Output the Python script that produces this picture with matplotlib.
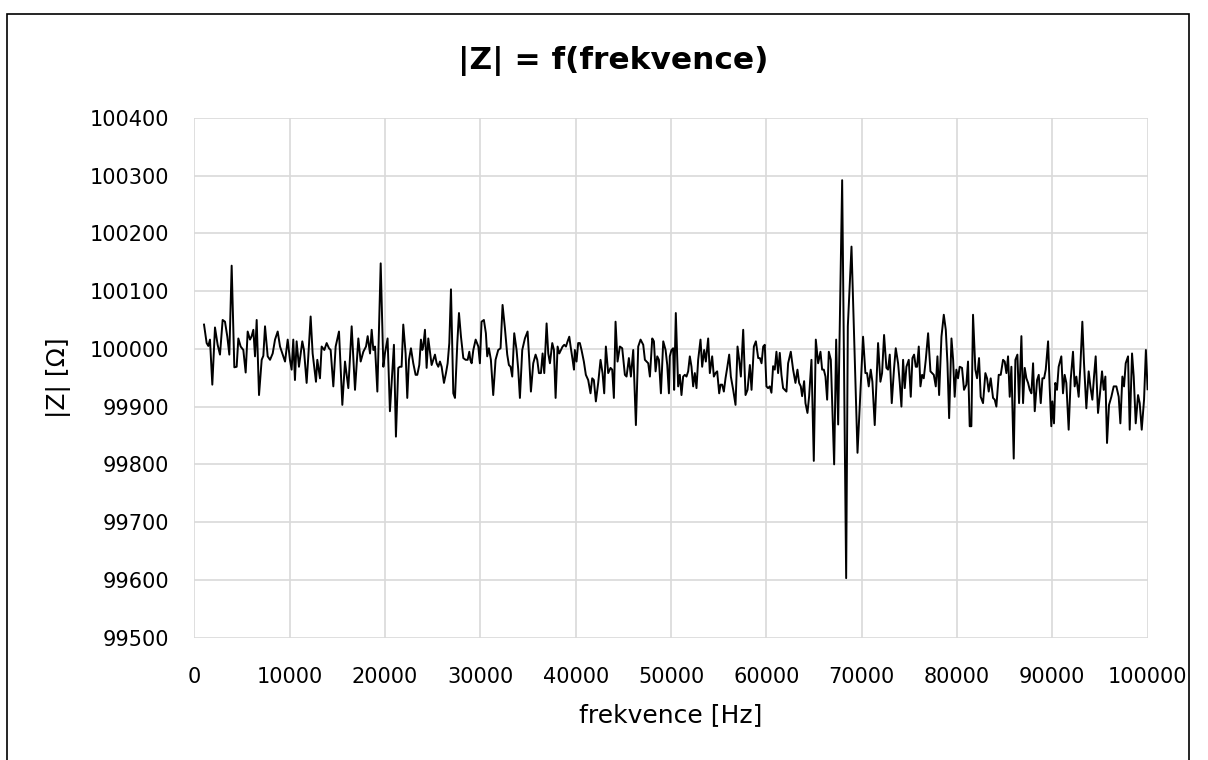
import matplotlib
matplotlib.use("Agg")
import matplotlib.pyplot as plt
from matplotlib.patches import Rectangle

# values (frequency in Hz, |Z| in ohm)
freq = [
    1000, 1275, 1450, 1625, 1870, 2150, 2430, 2675, 2955, 3200, 3445, 3655, 3900, 4180, 4425, 4600,
    4845, 5125, 5370, 5580, 5825, 6000, 6175, 6350, 6525, 6770, 7050, 7225, 7400, 7680, 7925, 8205,
    8450, 8730, 8975, 9220, 9500, 9780,
    10016, 10191, 10366, 10541, 10716, 10961, 11311, 11486, 11766, 11941, 12186, 12396, 12746, 12886,
    13166, 13341, 13621, 13866, 14111, 14286, 14566, 14811, 15161, 15511, 15791, 16141, 16491, 16841,
    17191, 17436, 17716, 17996, 18171, 18416, 18591, 18766, 18941, 19186, 19536, 19816,
    19980, 20260, 20505, 20925, 21135, 21380, 21555, 21730, 21905, 22150, 22325, 22500, 22710, 22955,
    23200, 23375, 23585, 23760, 23900, 24005, 24180, 24355, 24530, 24705, 24880, 25055, 25230, 25405,
    25580, 25755, 25930, 26175, 26385, 26560, 26735, 26910, 27155, 27330, 27575, 27750, 27960, 28205,
    28450, 28660, 28835, 28940, 29080, 29255, 29500, 29780,
    29943, 30118, 30363, 30573, 30713, 30888, 31098, 31343, 31588, 31868, 32113, 32323, 32568, 32813,
    32988, 33163, 33338, 33548, 33793, 33968, 34143, 34388, 34668, 34948, 35123, 35298, 35543, 35788,
    35963, 36138, 36348, 36523, 36698, 36943, 37118, 37293, 37538, 37713, 37888, 38098, 38273, 38448,
    38623, 38798, 38973, 39148, 39323, 39463, 39673, 39813,
    39907, 40082, 40257, 40432, 40607, 40852, 41062, 41307, 41552, 41727, 41902, 42112, 42357, 42602,
    42812, 42987, 43162, 43407, 43652, 43827, 44002, 44177, 44387, 44632, 44877, 45157, 45332, 45577,
    45787, 46032, 46312, 46557, 46802, 47082, 47257, 47432, 47607, 47782, 48027, 48202, 48377, 48552,
    48727, 48937, 49182, 49427, 49602, 49777,
    49870, 50045, 50220, 50325, 50500, 50745, 50920, 51095, 51270, 51445, 51620, 51795, 51970, 52145,
    52320, 52495, 52670, 52845, 53090, 53265, 53475, 53650, 53895, 54070, 54315, 54490, 54665, 54840,
    55050, 55190, 55365, 55540, 55715, 55890, 56100, 56275, 56520, 56765, 56975, 57150, 57325, 57570,
    57815, 58025, 58270, 58445, 58690, 58900, 59145, 59320, 59495, 59670,
    59833, 60008, 60183, 60358, 60533, 60708, 60883, 61058, 61233, 61408, 61583, 61758, 61933, 62108,
    62283, 62563, 62808, 63053, 63263, 63438, 63613, 63753, 63963, 64103, 64313, 64488, 64733, 64978,
    65188, 65433, 65678, 65853, 66028, 66203, 66378, 66553, 66763, 67113, 67323, 67533, 67953, 68373,
    68548, 68933, 69563,
    70146, 70391, 70566, 70741, 70951, 71126, 71371, 71721, 71966, 72141, 72351, 72596, 72771, 72946,
    73156, 73401, 73576, 73821, 73996, 74171, 74346, 74521, 74696, 74941, 75151, 75326, 75501, 75676,
    75816, 75991, 76166, 76341, 76516, 76726, 76971, 77216, 77391, 77566, 77776, 77951, 78126, 78371,
    78616, 78826, 79001, 79176, 79421, 79596,
    79759, 79934, 80109, 80284, 80529, 80739, 80984, 81159, 81334, 81509, 81684, 81929, 82104, 82314,
    82489, 82734, 82979, 83154, 83329, 83539, 83784, 83959, 84134, 84379, 84589, 84834, 85009, 85184,
    85359, 85534, 85709, 85954, 86129, 86339, 86514, 86759, 86934, 87109, 87284, 87459, 87634, 87809,
    87984, 88159, 88404, 88579, 88789, 88964, 89139, 89314, 89559,
    89723, 89898, 90003, 90178, 90318, 90493, 90668, 90948, 91123, 91298, 91473, 91718, 91928, 92173,
    92348, 92523, 92768, 92943, 93153, 93328, 93573, 93818, 93993, 94203, 94378, 94553, 94798, 94973,
    95218, 95393, 95568, 95743, 95953, 96198, 96443, 96723, 96968, 97143, 97353, 97528, 97703, 97948,
    98123, 98368, 98543, 98753, 98998, 99173, 99383, 99628, 99820, 100000,
]

impedance = [
    100042, 100010, 100005, 100016, 99938, 100037, 100007, 99990, 100050, 100047, 100021, 99990, 100144,
    99968, 99969, 100018, 100004, 99998, 99959, 100030, 100016, 100022, 100033, 99987, 100050, 99920,
    99981, 99988, 100039, 99987, 99981, 99992, 100016, 100030, 100004, 99992, 99978, 100016,
    99981, 99964, 100016, 99946, 100013, 99969, 100013, 99998, 99941, 99987, 100056, 99992, 99943,
    99981, 99949, 100004, 99998, 100010, 100001, 99998, 99935, 100004, 100030, 99903, 99978, 99932,
    100039, 99929, 100018, 99978, 99995, 100004, 100022, 99992, 100033, 99998, 100004, 99926, 100148,
    99969,
    99992, 100018, 99892, 100007, 99848, 99967, 99969, 99969, 100042, 99992, 99915, 99981, 100001,
    99975, 99955, 99955, 99972, 100016, 99998, 100004, 100033, 99967, 100018, 99995, 99972, 99981,
    99990, 99975, 99969, 99978, 99969, 99941, 99958, 99975, 100010, 100103, 99923, 99915, 100010,
    100062, 100021, 99984, 99981, 99981, 99995, 99981, 99975, 99998, 100016, 100004,
    99975, 100047, 100050, 100027, 99987, 100001, 99981, 99920, 99981, 99998, 100001, 100076, 100036,
    99990, 99972, 99969, 99952, 100027, 99998, 99964, 99915, 99998, 100018, 100030, 99981, 99926,
    99975, 99990, 99981, 99958, 99958, 99992, 99958, 100044, 99992, 99975, 100010, 99998, 99915,
    100004, 99992, 99998, 100004, 100007, 100004, 100013, 100021, 100004, 99981, 99964,
    99998, 99978, 100010, 100010, 99998, 99978, 99955, 99946, 99923, 99949, 99946, 99909, 99941,
    99981, 99958, 99923, 100004, 99958, 99967, 99964, 99915, 100047, 99978, 100004, 100001, 99955,
    99952, 99984, 99952, 99998, 99868, 100004, 100016, 100007, 99981, 99978, 99975, 99952, 100018,
    100013, 99961, 99987, 99981, 99923, 100013, 99998, 99972, 99923,
    99987, 99998, 100001, 99929, 100062, 99935, 99955, 99920, 99952, 99955, 99952, 99961, 99987,
    99969, 99935, 99958, 99932, 99981, 100016, 99969, 99998, 99978, 100018, 99958, 99987, 99952,
    99958, 99961, 99923, 99938, 99938, 99926, 99949, 99967, 99990, 99952, 99929, 99903, 100004,
    99981, 99952, 100033, 99920, 99929, 99972, 99929, 100004, 100013, 99984, 99984, 99975, 100004,
    100007, 99935, 99932, 99935, 99924, 99970, 99964, 99995, 99958, 99993, 99955, 99932, 99929,
    99926, 99975, 99995, 99964, 99941, 99964, 99941, 99935, 99918, 99944, 99906, 99889, 99918, 99981,
    99806, 100016, 99975, 99995, 99964, 99964, 99952, 99912, 99995, 99981, 99800, 100016, 99869,
    100292, 99603, 100039, 100177, 99820,
    100021, 99958, 99958, 99935, 99964, 99943, 99868, 100010, 99943, 99958, 100024, 99967, 99964,
    99990, 99906, 99967, 100001, 99975, 99941, 99900, 99981, 99932, 99969, 99981, 99917, 99984,
    99990, 99969, 99969, 100004, 99935, 99955, 99949, 99981, 100027, 99961, 99958, 99955, 99935,
    99987, 99920, 100021, 100059, 100033, 99975, 99880, 100018, 99981,
    99917, 99964, 99949, 99969, 99967, 99929, 99938, 99978, 99866, 99866, 100059, 99964, 99949,
    99984, 99917, 99906, 99958, 99949, 99926, 99949, 99915, 99912, 99900, 99955, 99955, 99981,
    99978, 99958, 99987, 99917, 99969, 99810, 99981, 99990, 99906, 100022, 99906, 99967, 99949,
    99941, 99929, 99923, 99975, 99892, 99946, 99955, 99906, 99949, 99949, 99964, 100013,
    99935, 99866, 99909, 99871, 99941, 99929, 99969, 99987, 99923, 99955, 99941, 99860, 99946,
    99995, 99935, 99952, 99917, 99969, 100047, 99975, 99897, 99961, 99935, 99912, 99952, 99987,
    99889, 99917, 99961, 99929, 99952, 99837, 99903, 99917, 99935, 99935, 99917, 99871, 99952,
    99935, 99975, 99987, 99860, 99992, 99952, 99871, 99920, 99906, 99860, 99912, 99998, 99930,
]

x_ticks = list(range(0, 100001, 10000))
y_ticks = list(range(99500, 100401, 100))

fig = plt.figure(figsize=(12.08, 7.6), dpi=100)
ax = fig.add_axes([0.161, 0.161, 0.789, 0.684])

ax.plot(freq, impedance, color="black", linewidth=1.4)

ax.set_xlim(0, 100000)
ax.set_ylim(99500, 100400)
ax.set_xticks(x_ticks)
ax.set_yticks(y_ticks)
ax.grid(True, color="#d9d9d9", linewidth=1.2)
ax.set_axisbelow(True)
for s in ax.spines.values():
    s.set_visible(False)
ax.tick_params(length=0, labelsize=15, colors="black")
ax.tick_params(axis="x", pad=21)
ax.tick_params(axis="y", pad=18)

ax.set_xlabel("frekvence [Hz]", fontsize=18, color="black", labelpad=12)
ax.set_ylabel("|Z| [Ω]", fontsize=18, color="black", labelpad=14)
fig.text(0.508, 0.92, "|Z| = f(frekvence)", ha="center", va="center",
         fontsize=22.5, fontweight="bold")

# chart border (bottom edge falls outside the image, as in the reference)
fig.patches.append(Rectangle((0.006, -0.02), 0.978, 1.002, transform=fig.transFigure,
                             fill=False, edgecolor="black", linewidth=1.2))

fig.savefig("out.png", dpi=100)
